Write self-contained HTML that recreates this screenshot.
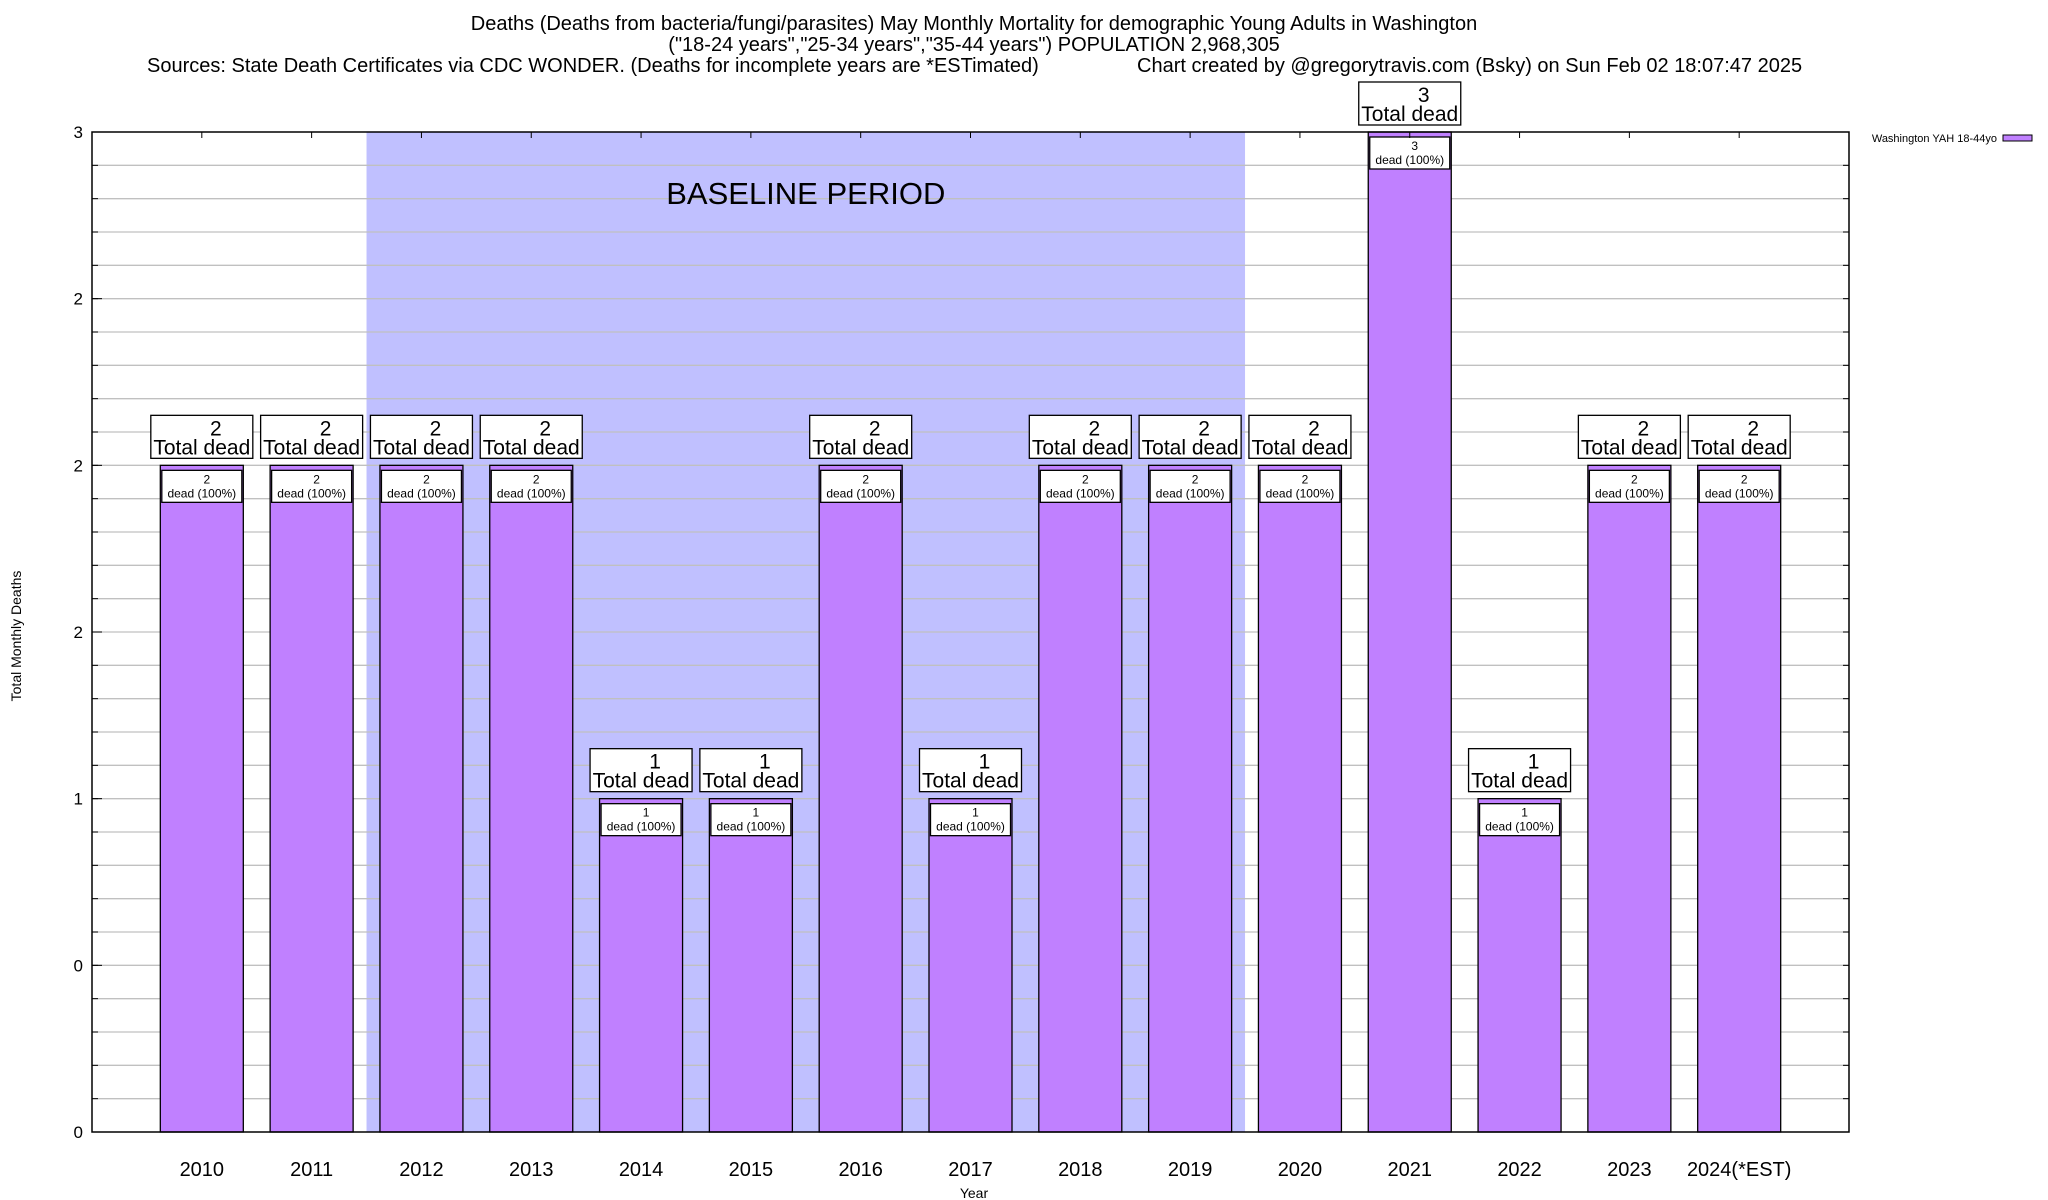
<!DOCTYPE html>
<html><head><meta charset="utf-8"><style>
html,body{margin:0;padding:0;background:#fff;}
svg{display:block;font-family:"Liberation Sans",sans-serif;}
</style></head><body>
<svg id="chart" width="2048" height="1200" viewBox="0 0 2048 1200" xmlns="http://www.w3.org/2000/svg">
<text x="974" y="30" font-size="20" text-anchor="middle">Deaths (Deaths from bacteria/fungi/parasites) May Monthly Mortality for demographic Young Adults in Washington</text>
<text x="974" y="51" font-size="20" text-anchor="middle">("18-24 years","25-34 years","35-44 years") POPULATION 2,968,305</text>
<text x="147" y="72" font-size="20">Sources: State Death Certificates via CDC WONDER. (Deaths for incomplete years are *ESTimated)</text>
<text x="1137" y="72" font-size="20">Chart created by @gregorytravis.com (Bsky) on Sun Feb 02 18:07:47 2025</text>
<g id="plot"></g>
<text x="974" y="1198" font-size="14" text-anchor="middle">Year</text>
<text x="0" y="0" font-size="14" text-anchor="middle" transform="translate(21,636) rotate(-90)">Total Monthly Deaths</text>
<text x="1997" y="142" font-size="11" text-anchor="end">Washington YAH 18-44yo</text>
<rect x="2003" y="135" width="29" height="6" fill="#c080ff" stroke="#000" stroke-width="1"/>
</svg>
<script>
const categories = ["2010","2011","2012","2013","2014","2015","2016","2017","2018","2019","2020","2021","2022","2023","2024(*EST)"];
const deaths = [2,2,2,2,1,1,2,1,2,2,2,3,1,2,2];
const yTickValues = [0,0.5,1,1.5,2,2.5,3];
const yTickLabels = ["0","0","1","2","2","2","3"];
const baselineRange = [1.5, 9.5];

const L=92,R=1849,T=132,B=1132,XMIN=-1,XMAX=15,YMIN=0,YMAX=3;
const xs=v=>L+(v-XMIN)/(XMAX-XMIN)*(R-L);
const ys=v=>B-(v-YMIN)/(YMAX-YMIN)*(B-T);
const NS="http://www.w3.org/2000/svg";
const g=document.getElementById('plot');
function mk(tag,attrs,parent){const e=document.createElementNS(NS,tag);for(const k in attrs)e.setAttribute(k,attrs[k]);(parent||g).appendChild(e);return e;}

let bs=mk('rect',{x:xs(baselineRange[0]),y:T,width:xs(baselineRange[1])-xs(baselineRange[0]),height:B-T,fill:'#c0c0ff'});



for(let i=1;i<30;i++){
  const y=ys(i*0.1);
  let gl=mk('line',{x1:L,x2:R,y1:y,y2:y,stroke:'#c0c0c0','stroke-width':1.3});
  
  
  mk('line',{x1:L,x2:L+6,y1:y,y2:y,stroke:'#000','stroke-width':1});
  mk('line',{x1:R-6,x2:R,y1:y,y2:y,stroke:'#000','stroke-width':1});
}
let bt=mk('text',{x:(xs(baselineRange[0])+xs(baselineRange[1]))/2,y:204,'font-size':31,'text-anchor':'middle'});
bt.textContent='BASELINE PERIOD';



yTickValues.forEach((v,i)=>{
  const y=ys(v);
  mk('line',{x1:L,x2:L+10,y1:y,y2:y,stroke:'#000','stroke-width':1});
  let t=mk('text',{x:L-9,y:y+6,'font-size':17,'text-anchor':'end'});
  t.textContent=yTickLabels[i];
  
  
});

const bw=83;
categories.forEach((c,i)=>{
  const cx=xs(i), v=deaths[i], top=ys(v);
  let b=mk('rect',{x:cx-bw/2,y:top,width:bw,height:B-top,fill:'#c080ff',stroke:'#000','stroke-width':1.3});
  
  
  let ib=mk('rect',{x:cx-bw/2+1.5,y:top+5,width:bw-3,height:32,fill:'#fff',stroke:'#000','stroke-width':1.3});
  
  
  let it1=mk('text',{x:cx+5,y:top+18,'font-size':12,'text-anchor':'middle'});it1.textContent=v;
  
  
  let it2=mk('text',{x:cx,y:top+32,'font-size':12,'text-anchor':'middle'});it2.textContent='dead (100%)';
  
  
  let ob=mk('rect',{x:cx-51,y:top-50,width:102,height:43,fill:'#fff',stroke:'#000','stroke-width':1.3});
  
  
  let ot1=mk('text',{x:cx+14,y:top-30,'font-size':21,'text-anchor':'middle'});ot1.textContent=v;
  
  
  let ot2=mk('text',{x:cx,y:top-11,'font-size':21,'text-anchor':'middle'});ot2.textContent='Total dead';
  
  
  mk('line',{x1:cx,x2:cx,y1:T,y2:T+6,stroke:'#000','stroke-width':1});
  let xl=mk('text',{x:cx,y:1176,'font-size':20,'text-anchor':'middle'});xl.textContent=c;
  
  
});
let fr=mk('rect',{x:L,y:T,width:R-L,height:B-T,fill:'none',stroke:'#000','stroke-width':1.5});


</script>
</body></html>
